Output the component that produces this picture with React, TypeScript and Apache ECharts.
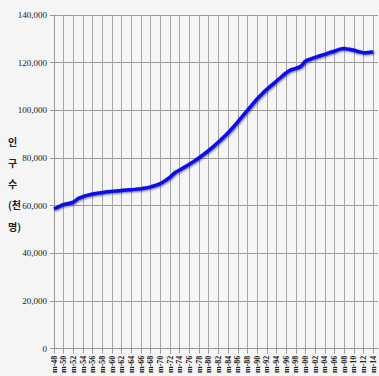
import React, { useEffect, useRef } from "react";
import * as echarts from "echarts";

// Years 1948–2015; only even years carry a label
const years: number[] = [];
for (let y = 1948; y <= 2015; y++) years.push(y);
const yearLabels = years.map((y) => "m-" + String(y % 100).padStart(2, "0"));

// Population, thousands (1948 → 2014; 2015 has no value)
const population: (number | null)[] = [
  58600, 59600, 60500, 60900, 61500, 63000, 63800, 64400, 64900, 65200,
  65500, 65800, 66000, 66200, 66400, 66600, 66700, 66900, 67100, 67400,
  67900, 68500, 69300, 70500, 72000, 73800, 75000, 76200, 77400, 78700,
  80100, 81600, 83200, 84900, 86700, 88600, 90600, 92800, 95200, 97600,
  100000, 102400, 104800, 106900, 108800, 110600, 112300, 114000, 115700, 117000,
  117600, 118400, 120600, 121500, 122200, 122900, 123500, 124200, 124800, 125600,
  125900, 125600, 125200, 124600, 124200, 124300, 124500, null,
];

const yTicks = { min: 0, max: 140000, interval: 20000 };
const axisTitle = ["인", "구", "수", "(천", "명)"];

export default function App() {
  const ref = useRef<HTMLDivElement>(null);

  useEffect(() => {
    if (!ref.current) return;
    const chart = echarts.init(ref.current, null, { renderer: "svg" });
    chart.setOption({
      animation: false,
      backgroundColor: "#f5f5f5",
      grid: { left: 54, right: 1, top: 15, bottom: 27, containLabel: false },
      graphic: axisTitle.map((t, i) => ({
        type: "text",
        left: 8,
        top: 136 + i * 21.3,
        style: {
          text: t,
          fontSize: 10,
          fontWeight: "bold",
          fontFamily: "Noto Sans CJK KR",
          fill: "#222",
        },
      })),
      xAxis: {
        type: "category",
        data: yearLabels,
        boundaryGap: false,
        axisLine: { lineStyle: { color: "#999", width: 1 } },
        axisTick: { interval: 1, length: 5, lineStyle: { color: "#999" } },
        axisLabel: {
          interval: 1,
          rotate: 90,
          margin: 7,
          fontSize: 8,
          fontWeight: "bold",
          color: "#222",
          fontFamily: "Liberation Sans Narrow",
        },
        splitLine: { show: true, interval: 1, lineStyle: { color: "#a8a8a8", width: 1 } },
      },
      yAxis: {
        type: "value",
        min: yTicks.min,
        max: yTicks.max,
        interval: yTicks.interval,
        axisLine: { show: true, lineStyle: { color: "#999", width: 1 } },
        axisTick: { show: true, length: 4, lineStyle: { color: "#999" } },
        axisLabel: {
          margin: 7,
          fontSize: 9,
          color: "#222",
          fontFamily: "Liberation Sans Narrow",
          formatter: (v: number) => v.toLocaleString("en-US"),
        },
        splitLine: { show: true, lineStyle: { color: "#999", width: 1 } },
      },
      series: [
        {
          type: "line",
          data: population,
          showSymbol: false,
          smooth: 0.3,
          lineStyle: {
            color: "#0c0ce8",
            width: 3.5,
            shadowColor: "rgba(0,0,60,0.55)",
            shadowBlur: 2,
            shadowOffsetX: 1,
            shadowOffsetY: 1,
          },
        },
      ],
    });
    return () => chart.dispose();
  }, []);

  return (
    <div
      ref={ref}
      style={{ position: "fixed", left: 0, top: 0, width: 379, height: 376 }}
    />
  );
}
